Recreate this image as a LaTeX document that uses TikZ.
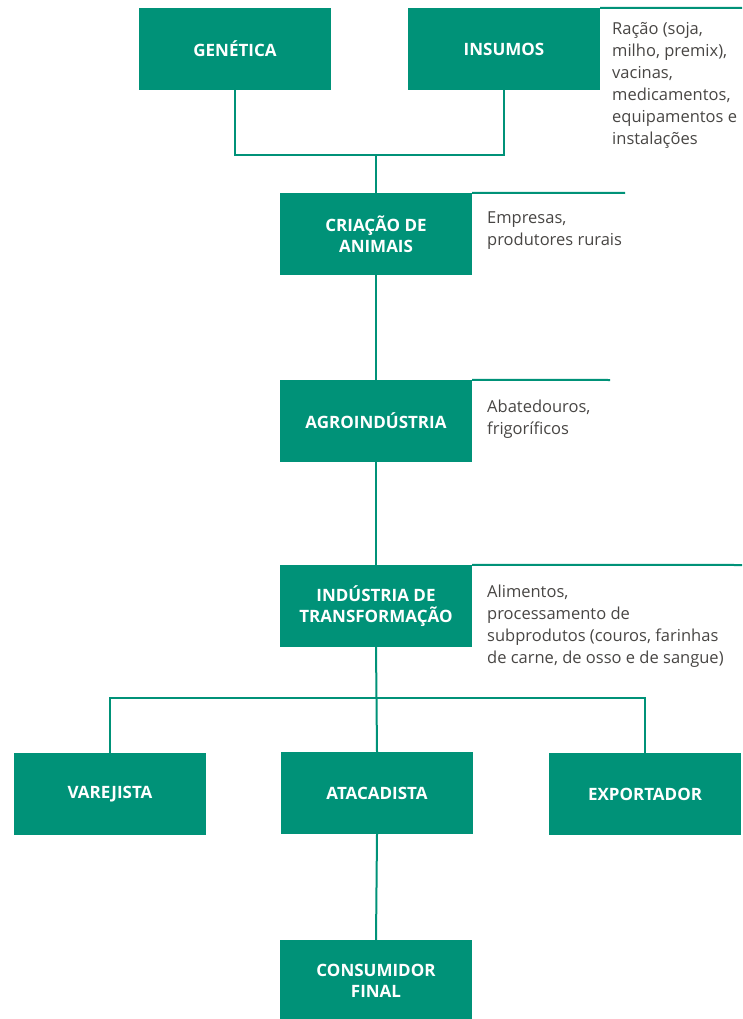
\documentclass[tikz,border=0pt]{standalone}
\usepackage{fontspec}
\setmainfont{Open Sans}
\definecolor{cadeia}{RGB}{0,146,120}
\definecolor{nota}{RGB}{72,70,68}
\tikzset{
    elo/.style={fill=cadeia, minimum width=192pt, minimum height=82pt, inner sep=0pt,
        align=center, text=white, font=\fontsize{17}{21}\selectfont\bfseries},
    obs/.style={anchor=north west, align=left, inner sep=0pt, text=nota,
        font=\fontsize{16.5}{22}\selectfont},
    liga/.style={draw=cadeia, line width=2pt}
}
\begin{document}
\begin{tikzpicture}[x=1pt,y=-1pt]
                \useasboundingbox (0,0) rectangle (742,1019);
                \node[elo] (gen) at (235,49) {GENÉTICA};
                \node[elo] (ins) at (504,49) {INSUMOS};
                \node[elo] (cria) at (376,234) {CRIAÇÃO DE\\ANIMAIS};
                \node[elo] (agro) at (376,421) {AGROINDÚSTRIA};
                \node[elo] (ind) at (376,606) {INDÚSTRIA DE\\TRANSFORMAÇÃO};
                \node[elo] (var) at (110,794) {VAREJISTA};
                \node[elo] (atac) at (377,793) {ATACADISTA};
                \node[elo] (exp) at (645,794) {EXPORTADOR};
                \node[elo] (cons) at (376,981) {CONSUMIDOR\\FINAL};

                \node[obs] (ins-obs) at (612,22) {Ração (soja,\\milho, premix),\\vacinas,\\medicamentos,\\equipamentos e\\instalações};
                \node[obs] (cria-obs) at (487,212) {Empresas,\\produtores rurais};
                \node[obs] (agro-obs) at (487,400) {Abatedouros,\\frigoríficos};
                \node[obs] (ind-obs) at (487,585) {Alimentos,\\processamento de\\subprodutos (couros, farinhas\\de carne, de osso e de sangue)};

                \coordinate (juncao) at (cria.north |- 0,155);
                \coordinate (ramo) at (ind.south |- 0,698);
                \draw[liga] (gen.south) -- (gen.south |- juncao) -- (ins.south |- juncao) -- (ins.south);
                \draw[liga] (juncao) -- (cria.north);
                \draw[liga] (cria.south) -- (agro.north);
                \draw[liga] (agro.south) -- (ind.north);
                \draw[liga] (ind.south) -- (atac.north);
                \draw[liga] (var.north) -- (var.north |- ramo) -- (exp.north |- ramo) -- (exp.north);
                \draw[liga] (atac.south) -- (cons.north);

                \draw[liga] (ins.north east) -- (742,8);
                \draw[liga] (cria.north east) -- (625,193);
                \draw[liga] (agro.north east) -- (610,380);
                \draw[liga] (ind.north east) -- (742,565);
\end{tikzpicture}
\end{document}
